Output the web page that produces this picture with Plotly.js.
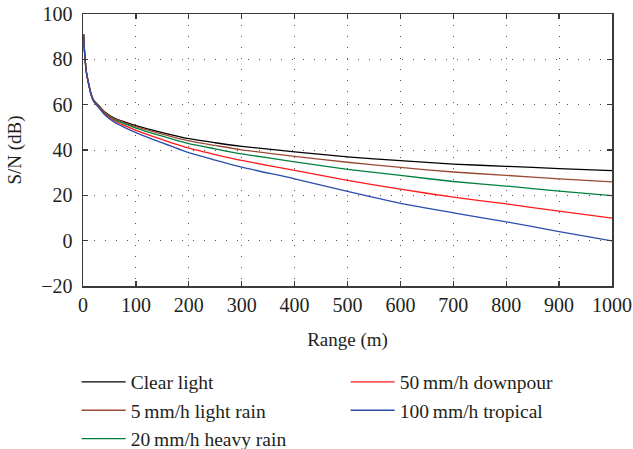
<!DOCTYPE html>
<html>
<head>
<meta charset="utf-8">
<script src="https://cdn.plot.ly/plotly-3.0.1.min.js"></script>
<style>html,body{margin:0;padding:0;background:#fff;}#chart{width:633px;height:449px;}</style>
</head>
<body>
<div id="chart"></div>
<script>
const rangeM = [1, 2, 3, 4, 6, 10, 15, 20, 30, 40, 60, 80, 100, 150, 200, 250, 300, 400, 500, 600, 700, 800, 900, 1000];
const clearLight = [91, 87, 83, 80, 75, 70, 65, 62, 59.5, 57, 54, 52.3, 50.8, 47.7, 45, 43.2, 41.6, 39.2, 37, 35.3, 33.8, 32.8, 31.8, 30.9];
const lightRain5 = [91, 87, 83, 80, 75, 70, 65, 62, 59.4, 56.8, 53.7, 51.9, 50.3, 47, 44, 42, 40.1, 37.2, 34.6, 32.3, 30.3, 28.8, 27.3, 25.9];
const heavyRain20 = [91, 87, 83, 80, 75, 70, 64.8, 61.8, 59.2, 56.5, 53.3, 51.4, 49.7, 46.1, 42.8, 40.5, 38.3, 34.8, 31.5, 28.8, 26.1, 24.1, 21.9, 19.9];
const downpour50 = [91, 87, 83, 80, 74.9, 69.8, 64.7, 61.6, 58.9, 56.2, 52.7, 50.6, 48.7, 44.6, 40.8, 38, 35.4, 31, 26.6, 22.7, 19.2, 16.2, 13, 9.9];
const tropical100 = [91, 87, 83, 80, 74.8, 69.7, 64.5, 61.4, 58.6, 55.8, 52.1, 49.8, 47.7, 43.1, 38.8, 35.5, 32.4, 27.3, 21.7, 16.5, 12.3, 8.3, 4, -0.1];
const seriesNames = ["Clear light", "5 mm/h light rain", "20 mm/h heavy rain", "50 mm/h downpour", "100 mm/h tropical"];
const xTicks = [0, 100, 200, 300, 400, 500, 600, 700, 800, 900, 1000];
const yTicks = [-20, 0, 20, 40, 60, 80, 100];

const seriesValues = [clearLight, lightRain5, heavyRain20, downpour50, tropical100];
const colors = ["#000000", "#9a4a32", "#00803e", "#ff1a1a", "#2a4dab"];
const legendRanks = [1, 3, 5, 2, 4];
const fontFamily = "Liberation Serif";
const textColor = "#231f20";
const thinSpace = "\u2009";

const traces = seriesValues.map((vals, i) => ({
  x: rangeM,
  y: vals,
  type: "scatter",
  mode: "lines",
  name: seriesNames[i].replace(/^(\d+) /, "$1" + thinSpace),
  line: {color: colors[i], width: 1.3, shape: "spline", smoothing: 0.6},
  legendrank: legendRanks[i],
  hoverinfo: "skip"
}));

const axisCommon = {
  showline: true,
  linecolor: "#3a3a3a",
  linewidth: 1.5,
  mirror: "ticks",
  ticks: "inside",
  ticklen: 5,
  tickwidth: 1.2,
  tickcolor: "#3a3a3a",
  showgrid: true,
  gridcolor: "#555555",
  gridwidth: 1,
  griddash: "1px,10px",
  zeroline: false,
  automargin: false,
  tickfont: {family: fontFamily, size: 20, color: textColor}
};

const layout = {
  width: 633,
  height: 449,
  margin: {l: 82.5, r: 21, t: 14, b: 162.5, autoexpand: false},
  paper_bgcolor: "#ffffff",
  plot_bgcolor: "#ffffff",
  font: {family: fontFamily, size: 18, color: textColor},
  xaxis: Object.assign({}, axisCommon, {
    range: [0, 1000],
    tickvals: xTicks,
    ticktext: xTicks.map(String),
    title: {text: "Range (m)", font: {family: fontFamily, size: 19, color: textColor}, standoff: 18}
  }),
  yaxis: Object.assign({}, axisCommon, {
    range: [-20, 100],
    tickvals: yTicks,
    ticktext: yTicks.map(v => v < 0 ? "\u2212" + Math.abs(v) : String(v)),
    ticklabelstandoff: 5,
    title: {text: "S/N (dB)", font: {family: fontFamily, size: 19, color: textColor}, standoff: 14}
  }),
  showlegend: true,
  legend: {
    orientation: "h",
    xanchor: "left",
    yanchor: "top",
    x: -0.012,
    y: -0.282,
    entrywidth: 210,
    entrywidthmode: "pixels",
    bgcolor: "rgba(0,0,0,0)",
    borderwidth: 0,
    font: {family: fontFamily, size: 19.5, color: textColor},
    itemwidth: 44
  }
};

Plotly.newPlot("chart", traces, layout, {displayModeBar: false, staticPlot: true});
</script>
</body>
</html>
